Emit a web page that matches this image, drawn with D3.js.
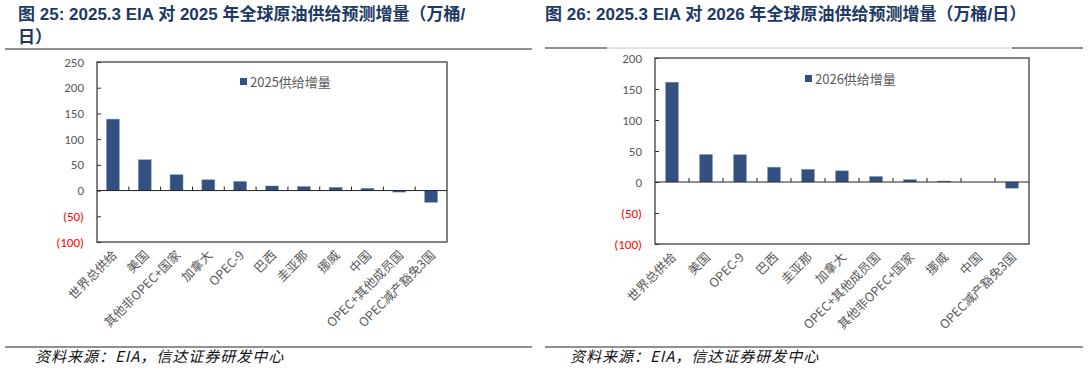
<!DOCTYPE html>
<html>
<head>
<meta charset="utf-8">
<script src="https://cdn.jsdelivr.net/npm/d3@7"></script>
<style>
  body { margin: 0; background: #fff; }
  svg { display: block; font-family: "Noto Sans CJK SC", "Liberation Sans", sans-serif; }
</style>
</head>
<body>
<div id="chart"></div>
<script>
// data (万桶/日)
const cats2025 = ["世界总供给", "美国", "其他非OPEC+国家", "加拿大", "OPEC-9", "巴西", "圭亚那", "挪威", "中国", "OPEC+其他成员国", "OPEC减产豁免3国"];
const vals2025 = [139, 60, 31, 21, 18, 9, 8, 6.5, 4.5, -3, -23];
const cats2026 = ["世界总供给", "美国", "OPEC-9", "巴西", "圭亚那", "加拿大", "OPEC+其他成员国", "其他非OPEC+国家", "挪威", "中国", "OPEC减产豁免3国"];
const vals2026 = [161, 44.5, 44, 24, 20.5, 18, 9, 4, 1.5, 0, -10];
const ticks2025 = [250, 200, 150, 100, 50, 0, -50, -100];
const ticks2026 = [200, 150, 100, 50, 0, -50, -100];

const W = 1088, H = 371;
const navy = "#203864";
const barColor = "#335080";
const gray = "#595959";
const titleFont = "'Liberation Sans', 'Noto Sans CJK SC', sans-serif";

const svg = d3.select("#chart").append("svg")
  .attr("width", W)
  .attr("height", H);

// titles
function title(x, y, txt) {
  svg.append("text")
    .attr("x", x).attr("y", y)
    .attr("fill", navy)
    .style("font-family", titleFont)
    .style("font-size", "17px").style("font-weight", "bold")
    .text(txt);
}
title(18, 20, "图 25:  2025.3 EIA 对 2025 年全球原油供给预测增量（万桶/");
title(18, 43, "日）");
title(545, 20, "图 26:  2025.3 EIA 对 2026 年全球原油供给预测增量（万桶/日）");

// rules under titles and above sources
svg.append("line").attr("x1", 5).attr("x2", 532).attr("y1", 49).attr("y2", 49)
  .attr("stroke", "#222").attr("stroke-width", 1);
svg.append("line").attr("x1", 545).attr("x2", 607).attr("y1", 48).attr("y2", 48)
  .attr("stroke", "#222").attr("stroke-width", 1);
svg.append("line").attr("x1", 607).attr("x2", 1012).attr("y1", 48).attr("y2", 48)
  .attr("stroke", "#c8c8c8").attr("stroke-width", 1);
svg.append("line").attr("x1", 1012).attr("x2", 1083).attr("y1", 48).attr("y2", 48)
  .attr("stroke", "#222").attr("stroke-width", 1);
svg.append("line").attr("x1", 5).attr("x2", 532).attr("y1", 347).attr("y2", 347)
  .attr("stroke", "#222").attr("stroke-width", 1);
svg.append("line").attr("x1", 545).attr("x2", 1083).attr("y1", 347).attr("y2", 347)
  .attr("stroke", "#222").attr("stroke-width", 1);

// sources
[35, 570].forEach(sx => {
  svg.append("text").attr("x", sx).attr("y", 362)
    .style("font-size", "15px").style("font-style", "italic")
    .style("letter-spacing", "1px")
    .attr("fill", "#111")
    .text("资料来源：EIA，信达证券研发中心");
});

function drawChart(cfg) {
  const g = svg.append("g");
  const x = d3.scaleBand()
    .domain(cfg.cats)
    .range([cfg.left, cfg.right])
    .paddingInner(0.6)
    .paddingOuter(0.3);
  const xb = d3.scaleBand().domain(cfg.cats).range([cfg.left, cfg.right]);
  const y = d3.scaleLinear()
    .domain([d3.min(cfg.ticks), d3.max(cfg.ticks)])
    .range([cfg.bottom, cfg.top]);

  // plot frame
  g.append("rect")
    .attr("x", cfg.left).attr("y", cfg.top)
    .attr("width", cfg.right - cfg.left).attr("height", cfg.bottom - cfg.top)
    .attr("fill", "none").attr("stroke", gray).attr("stroke-width", 1.5);

  // bars
  g.selectAll("rect.bar")
    .data(cfg.vals)
    .enter().append("rect")
      .attr("class", "bar")
      .attr("x", (d, i) => xb(cfg.cats[i]) + (xb.bandwidth() - cfg.barW) / 2)
      .attr("y", d => y(Math.max(d, 0)))
      .attr("width", cfg.barW)
      .attr("height", d => Math.abs(y(d) - y(0)))
      .attr("fill", barColor)
      .attr("stroke", "#8da2c0").attr("stroke-width", 0.5);

  // y axis (ticks inside)
  const yAxis = g.append("g")
    .attr("transform", `translate(${cfg.left},0)`)
    .call(d3.axisRight(y).tickValues(cfg.ticks).tickSize(4).tickFormat(""));
  yAxis.select(".domain").remove();
  yAxis.selectAll("line").attr("stroke", "#333");

  g.selectAll("text.ylab")
    .data(cfg.ticks)
    .enter().append("text")
      .attr("class", "ylab")
      .attr("x", cfg.left - 13)
      .attr("y", d => y(d))
      .attr("dy", "0.35em")
      .attr("text-anchor", "end")
      .style("font-size", "13px")
      .style("font-family", "Calibri, Carlito, 'Liberation Sans', sans-serif")
      .attr("fill", d => d < 0 ? "#ff0000" : gray)
      .text(d => d < 0 ? `(${-d})` : d);

  // zero line with category separators
  g.append("line")
    .attr("x1", cfg.left).attr("x2", cfg.right)
    .attr("y1", y(0)).attr("y2", y(0))
    .attr("stroke", "#222").attr("stroke-width", 1);
  g.selectAll("line.sep")
    .data(cfg.cats.slice(1))
    .enter().append("line")
      .attr("class", "sep")
      .attr("x1", d => xb(d)).attr("x2", d => xb(d))
      .attr("y1", y(0)).attr("y2", y(0) - 4)
      .attr("stroke", "#222");

  // category labels, rotated
  g.selectAll("text.xlab")
    .data(cfg.cats)
    .enter().append("text")
      .attr("class", "xlab")
      .attr("transform", d => `translate(${x(d) + x.bandwidth() / 2 + 5},${cfg.bottom + 14}) rotate(-45)`)
      .attr("text-anchor", "end")
      .attr("fill", gray)
      .style("font-size", "12.5px")
      .text(d => d);

  // legend
  g.append("rect")
    .attr("x", cfg.legX).attr("y", cfg.legY - 4)
    .attr("width", 7).attr("height", 7)
    .attr("fill", barColor);
  g.append("text")
    .attr("x", cfg.legX + 10).attr("y", cfg.legY)
    .attr("dy", "0.35em")
    .attr("fill", gray)
    .style("font-size", "13px")
    .text(cfg.legend);
}

drawChart({
  cats: cats2025, vals: vals2025, ticks: ticks2025,
  left: 97, right: 447, top: 62, bottom: 242,
  barW: 13, legX: 240, legY: 82, legend: "2025供给增量"
});

drawChart({
  cats: cats2026, vals: vals2026, ticks: ticks2026,
  left: 655, right: 1029, top: 58, bottom: 244,
  barW: 13, legX: 805, legY: 79, legend: "2026供给增量"
});
</script>
</body>
</html>
